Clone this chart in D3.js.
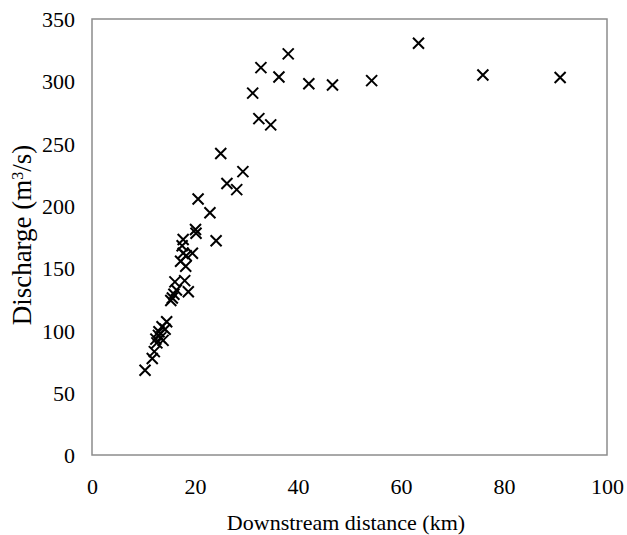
<!DOCTYPE html>
<html>
<head>
<meta charset="utf-8">
<script src="https://cdn.jsdelivr.net/npm/d3@7"></script>
<style>
  html, body { margin: 0; padding: 0; background: #fff; }
  svg { display: block; }
  text { font-family: "Liberation Serif", "Times New Roman", serif; fill: #000; }
</style>
</head>
<body>
<svg id="chart" width="627" height="535"></svg>
<script>
// Downstream distance (km) of each measurement
const distanceKm = [
  10.3, 11.7, 12.1, 12.6, 12.4, 12.9, 13.3, 13.8, 13.0, 13.6, 14.2, 14.5,
  15.3, 15.6, 15.9, 16.4, 18.7, 16.1, 18.0, 17.2, 18.2, 18.3, 17.7, 19.5,
  17.7, 17.5, 20.2, 20.1, 24.1,
  20.6, 22.9, 25.0, 26.2, 28.1, 29.3,
  31.2, 32.4, 34.7, 32.8, 36.3, 38.1, 42.1, 46.7, 54.3, 63.4, 75.9, 90.9
];
// Discharge (m3/s) at each of those distances
const dischargeM3s = [
  68, 77.5, 83, 90, 93, 96, 94, 92, 99, 103, 101, 107,
  124, 126, 129, 132.5, 131, 139, 140, 155.5, 151.5, 160, 162, 162,
  173, 168, 178, 181, 172,
  205.5, 194.5, 242, 218, 213, 227.5,
  290.5, 270, 265, 311, 303.5, 322, 298, 297, 300.5, 330.5, 305, 303
];
const xTicks = [0, 20, 40, 60, 80, 100];
const yTicks = [0, 50, 100, 150, 200, 250, 300, 350];

const points = distanceKm.map((d, i) => ({ x: d, y: dischargeM3s[i] }));

const svg = d3.select("#chart");
const plot = { left: 92, top: 19, right: 607, bottom: 455 };

const x = d3.scaleLinear().domain([0, 100]).range([plot.left, plot.right]);
const y = d3.scaleLinear().domain([0, 350]).range([plot.bottom, plot.top]);

// plot area frame
svg.append("rect")
  .attr("x", plot.left).attr("y", plot.top)
  .attr("width", plot.right - plot.left).attr("height", plot.bottom - plot.top)
  .attr("fill", "none").attr("stroke", "#8c8c8c").attr("stroke-width", 1.5);

// axes: labels only, no tick marks or domain line
const xAxis = svg.append("g")
  .attr("transform", `translate(0,${plot.bottom})`)
  .call(d3.axisBottom(x).tickValues(xTicks).tickSize(0));
const yAxis = svg.append("g")
  .attr("transform", `translate(${plot.left},0)`)
  .call(d3.axisLeft(y).tickValues(yTicks).tickSize(0).tickPadding(17));
[xAxis, yAxis].forEach(g => {
  g.select(".domain").remove();
  g.selectAll("text")
    .style("font-family", "'Liberation Serif', 'Times New Roman', serif")
    .style("font-size", "22px").attr("fill", "#000");
});
xAxis.selectAll("text").attr("dy", "0.35em").attr("y", 31);
yAxis.selectAll("text").attr("dy", "0.35em");

// axis titles
svg.append("text")
  .attr("x", 346).attr("y", 530)
  .attr("text-anchor", "middle").style("font-size", "22px")
  .text("Downstream distance (km)");

const yTitle = svg.append("text")
  .attr("transform", `translate(31,${(plot.top + plot.bottom) / 2 - 2}) rotate(-90)`)
  .attr("text-anchor", "middle").style("font-size", "27px");
yTitle.append("tspan").text("Discharge (m");
yTitle.append("tspan").attr("baseline-shift", "super").style("font-size", "16px").text("3");
yTitle.append("tspan").text("/s)");

// × markers
const s = 5.5;
svg.append("g").selectAll("path")
  .data(points)
  .join("path")
  .attr("d", d => {
    const cx = x(d.x), cy = y(d.y);
    return `M${cx - s},${cy - s}L${cx + s},${cy + s}M${cx - s},${cy + s}L${cx + s},${cy - s}`;
  })
  .attr("stroke", "#000").attr("stroke-width", 2).attr("fill", "none");
</script>
</body>
</html>
